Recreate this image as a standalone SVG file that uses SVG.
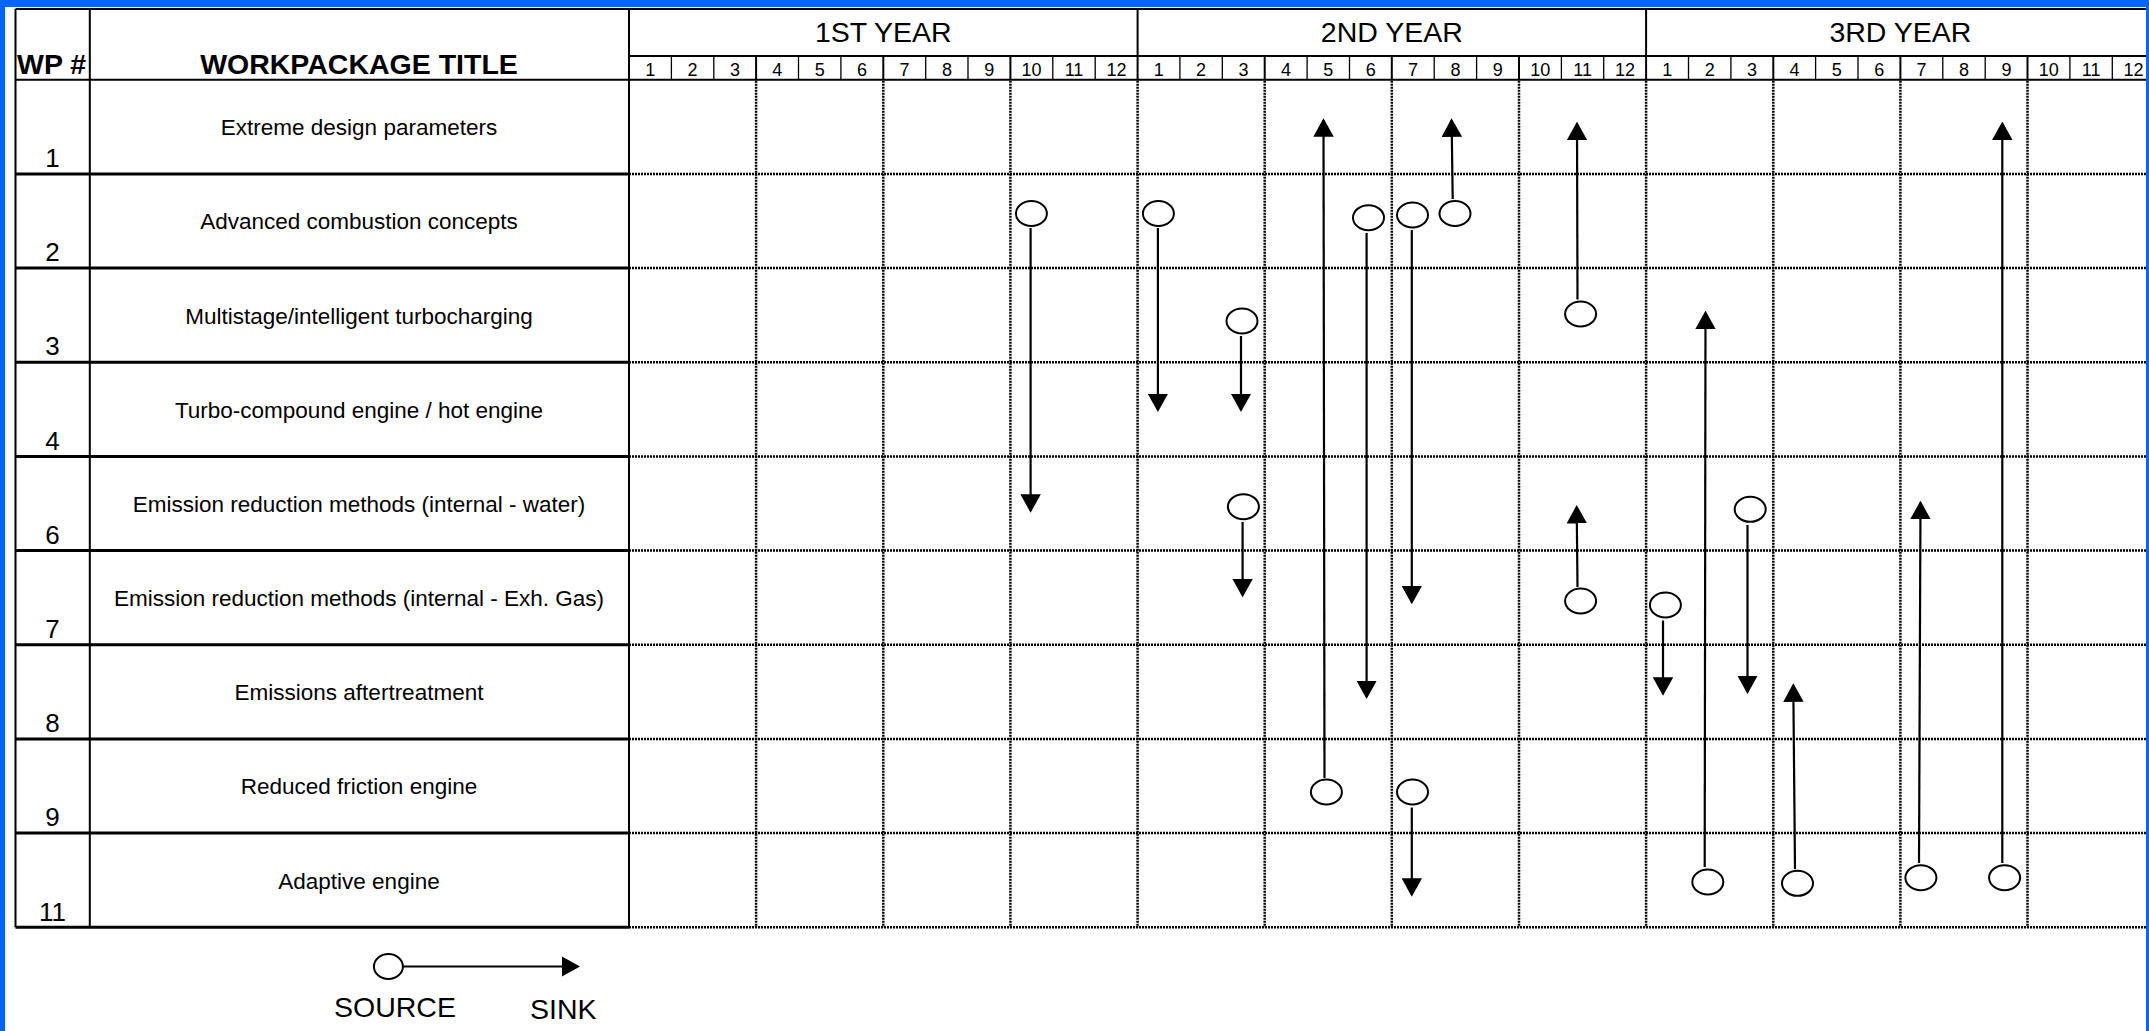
<svg xmlns="http://www.w3.org/2000/svg" width="2149" height="1031" viewBox="0 0 2149 1031">
<defs>
<style>
.t{font-family:"Liberation Sans",Arial,Helvetica,sans-serif;fill:#000}
.hd{font-size:28.5px;font-weight:bold}
.title{font-size:22.5px;text-anchor:middle}
.num{font-size:26px;text-anchor:middle}
.mon{font-size:18px;text-anchor:middle}
.year{font-size:28.5px;text-anchor:middle}
.leg{font-size:28.5px}
.s2{stroke:#000;stroke-width:2;fill:none}
.s3{stroke:#000;stroke-width:3;fill:none}
.s1{stroke:#000;stroke-width:1.3;fill:none}
.dot{stroke:#000;stroke-width:2.5;stroke-dasharray:2 1;fill:none}
.src{fill:#fff;stroke:#000;stroke-width:2}
.conn{stroke:#000;stroke-width:2.2;fill:none;marker-end:url(#ah)}
</style>
<marker id="ah" viewBox="0 0 18.5 20.5" refX="16.5" refY="10.25" markerWidth="18.5" markerHeight="20.5" markerUnits="userSpaceOnUse" orient="auto">
<path d="M0,0 L18.5,10.25 L0,20.5 Z" fill="#000"/>
</marker>
</defs>
<rect x="0" y="0" width="2149" height="1031" fill="#0066ff"/>
<rect x="5" y="7" width="2141" height="1024" fill="#fff"/>

<g id="grid">
<g class="dot">
<path d="M629,173.9H2146M629,268.1H2146M629,362.2H2146M629,456.4H2146M629,550.6H2146M629,644.8H2146M629,738.9H2146M629,833.1H2146M629,927.3H2146"/>
<path d="M756.1,80.7V927.3M883.3,80.7V927.3M1010.4,80.7V927.3M1137.6,80.7V927.3M1264.7,80.7V927.3M1391.8,80.7V927.3M1519,80.7V927.3M1646.1,80.7V927.3M1773.3,80.7V927.3M1900.4,80.7V927.3M2027.5,80.7V927.3"/>
</g>
<path class="s2" d="M15.5,9H2146M15.5,79.7H2146M629,56H2146M15.5,9V927.3M89.8,9V927.3M629,9V927.3M1137.6,9V79.7M1646.1,9V79.7"/>
<path class="s3" d="M15.5,173.9H629M15.5,268.1H629M15.5,362.2H629M15.5,456.4H629M15.5,550.6H629M15.5,644.8H629M15.5,738.9H629M15.5,833.1H629M15.5,927.3H629"/>
<path class="s1" d="M671.4,56V79.7M713.8,56V79.7M798.5,56V79.7M840.9,56V79.7M925.7,56V79.7M968,56V79.7M1052.8,56V79.7M1095.2,56V79.7M1179.9,56V79.7M1222.3,56V79.7M1307.1,56V79.7M1349.5,56V79.7M1434.2,56V79.7M1476.6,56V79.7M1561.4,56V79.7M1603.7,56V79.7M1688.5,56V79.7M1730.9,56V79.7M1815.6,56V79.7M1858,56V79.7M1942.8,56V79.7M1985.2,56V79.7M2069.9,56V79.7M2112.3,56V79.7"/>
<path class="s2" d="M756.1,56V79.7M883.3,56V79.7M1010.4,56V79.7M1264.7,56V79.7M1391.8,56V79.7M1519,56V79.7M1773.3,56V79.7M1900.4,56V79.7M2027.5,56V79.7"/>
</g>

<g id="header" class="t">
<text class="hd" x="17" y="74">WP #</text>
<text class="hd" x="359" y="74" text-anchor="middle">WORKPACKAGE TITLE</text>
<text class="year" x="883.3" y="41.7">1ST YEAR</text>
<text class="year" x="1391.8" y="41.7">2ND YEAR</text>
<text class="year" x="1900.4" y="41.7">3RD YEAR</text>
<g class="mon">
<text x="650.2" y="75.5">1</text><text x="692.6" y="75.5">2</text><text x="735" y="75.5">3</text><text x="777.3" y="75.5">4</text><text x="819.7" y="75.5">5</text><text x="862.1" y="75.5">6</text><text x="904.5" y="75.5">7</text><text x="946.9" y="75.5">8</text><text x="989.2" y="75.5">9</text><text x="1031.6" y="75.5">10</text><text x="1074" y="75.5">11</text><text x="1116.4" y="75.5">12</text>
<text x="1158.8" y="75.5">1</text><text x="1201.1" y="75.5">2</text><text x="1243.5" y="75.5">3</text><text x="1285.9" y="75.5">4</text><text x="1328.3" y="75.5">5</text><text x="1370.7" y="75.5">6</text><text x="1413" y="75.5">7</text><text x="1455.4" y="75.5">8</text><text x="1497.8" y="75.5">9</text><text x="1540.2" y="75.5">10</text><text x="1582.6" y="75.5">11</text><text x="1624.9" y="75.5">12</text>
<text x="1667.3" y="75.5">1</text><text x="1709.7" y="75.5">2</text><text x="1752.1" y="75.5">3</text><text x="1794.5" y="75.5">4</text><text x="1836.8" y="75.5">5</text><text x="1879.2" y="75.5">6</text><text x="1921.6" y="75.5">7</text><text x="1964" y="75.5">8</text><text x="2006.4" y="75.5">9</text><text x="2048.7" y="75.5">10</text><text x="2091.1" y="75.5">11</text><text x="2133.5" y="75.5">12</text>
</g>
</g>

<g id="wp1" class="t"><text class="num" x="52.6" y="167.1">1</text><text class="title" x="359" y="135.2">Extreme design parameters</text></g>
<g id="wp2" class="t"><text class="num" x="52.6" y="261.3">2</text><text class="title" x="359" y="229.4">Advanced combustion concepts</text></g>
<g id="wp3" class="t"><text class="num" x="52.6" y="355.4">3</text><text class="title" x="359" y="323.6">Multistage/intelligent turbocharging</text></g>
<g id="wp4" class="t"><text class="num" x="52.6" y="449.6">4</text><text class="title" x="359" y="417.7">Turbo-compound engine / hot engine</text></g>
<g id="wp6" class="t"><text class="num" x="52.6" y="543.8">6</text><text class="title" x="359" y="511.9">Emission reduction methods (internal - water)</text></g>
<g id="wp7" class="t"><text class="num" x="52.6" y="638">7</text><text class="title" x="359" y="606.1">Emission reduction methods (internal - Exh. Gas)</text></g>
<g id="wp8" class="t"><text class="num" x="52.6" y="732.1">8</text><text class="title" x="359" y="700.3">Emissions aftertreatment</text></g>
<g id="wp9" class="t"><text class="num" x="52.6" y="826.3">9</text><text class="title" x="359" y="794.4">Reduced friction engine</text></g>
<g id="wp11" class="t"><text class="num" x="52.6" y="920.5">11</text><text class="title" x="359" y="888.6">Adaptive engine</text></g>

<g id="connectors">
<g class="conn-lines">
<line class="conn" x1="1030.6" y1="228" x2="1030.6" y2="510.7"/>
<line class="conn" x1="1157.9" y1="228" x2="1157.9" y2="410"/>
<line class="conn" x1="1241" y1="336" x2="1241" y2="410"/>
<line class="conn" x1="1324.5" y1="778" x2="1323.5" y2="120.3"/>
<line class="conn" x1="1366.6" y1="233" x2="1366.6" y2="697"/>
<line class="conn" x1="1411.8" y1="230" x2="1411.8" y2="602.3"/>
<line class="conn" x1="1452.7" y1="199" x2="1451.6" y2="120.3"/>
<line class="conn" x1="1577.5" y1="299.5" x2="1577" y2="123.7"/>
<line class="conn" x1="1242.6" y1="522" x2="1242.6" y2="595.3"/>
<line class="conn" x1="1577.5" y1="587" x2="1576.7" y2="507"/>
<line class="conn" x1="1411.8" y1="807.5" x2="1411.8" y2="894.7"/>
<line class="conn" x1="1663" y1="620.5" x2="1663" y2="693.7"/>
<line class="conn" x1="1704.7" y1="867" x2="1705.5" y2="312.7"/>
<line class="conn" x1="1747.5" y1="525" x2="1747.5" y2="692"/>
<line class="conn" x1="1795" y1="869" x2="1793.3" y2="685.3"/>
<line class="conn" x1="1919" y1="863" x2="1920.5" y2="502.7"/>
<line class="conn" x1="2002.3" y1="863" x2="2002.3" y2="123.5"/>
</g>
<g class="sources">
<ellipse class="src" cx="1031.4" cy="213.5" rx="15.5" ry="12.5"/>
<ellipse class="src" cx="1158.4" cy="213.5" rx="15.5" ry="12.5"/>
<ellipse class="src" cx="1242" cy="321" rx="15.5" ry="12.5"/>
<ellipse class="src" cx="1326.4" cy="792" rx="15.5" ry="12.5"/>
<ellipse class="src" cx="1368.5" cy="217.7" rx="15.5" ry="12.5"/>
<ellipse class="src" cx="1412.5" cy="215" rx="15.5" ry="12.5"/>
<ellipse class="src" cx="1455" cy="213.5" rx="15.5" ry="12.5"/>
<ellipse class="src" cx="1580.6" cy="314" rx="15.5" ry="12.5"/>
<ellipse class="src" cx="1243.4" cy="506.7" rx="15.5" ry="12.5"/>
<ellipse class="src" cx="1580.6" cy="601" rx="15.5" ry="12.5"/>
<ellipse class="src" cx="1412.5" cy="792" rx="15.5" ry="12.5"/>
<ellipse class="src" cx="1665.4" cy="605" rx="15.5" ry="12.5"/>
<ellipse class="src" cx="1707.8" cy="882" rx="15.5" ry="12.5"/>
<ellipse class="src" cx="1750.2" cy="509.3" rx="15.5" ry="12.5"/>
<ellipse class="src" cx="1797.5" cy="883.3" rx="15.5" ry="12.5"/>
<ellipse class="src" cx="1920.9" cy="877.7" rx="15.5" ry="12.5"/>
<ellipse class="src" cx="2004.6" cy="877.7" rx="15.5" ry="12.5"/>
</g>
</g>

<g id="legend">
<line class="conn" x1="403" y1="966.5" x2="578" y2="966.5"/>
<ellipse class="src" cx="388.4" cy="966.5" rx="14.5" ry="12.5"/>
<text class="t leg" x="334" y="1016.7">SOURCE</text>
<text class="t leg" x="530" y="1019">SINK</text>
</g>

<rect x="2146" y="0" width="3" height="1031" fill="#0066ff"/>
</svg>
